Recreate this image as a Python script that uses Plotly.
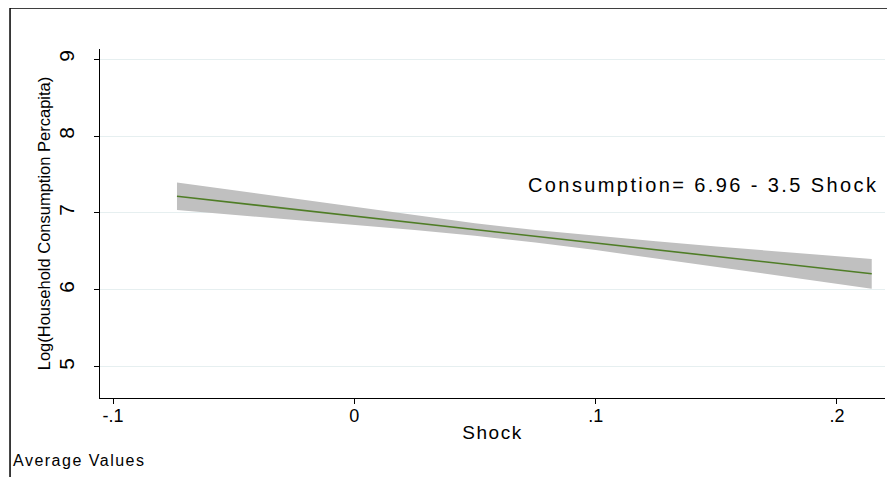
import plotly.graph_objects as go

# Data
shock = [-0.0735, -0.05, -0.025, 0.0, 0.025, 0.05, 0.075, 0.1, 0.125, 0.15, 0.175, 0.2, 0.2144]
fitted = [7.217, 7.135, 7.048, 6.960, 6.873, 6.785, 6.698, 6.610, 6.523, 6.435, 6.348, 6.260, 6.210]
ci_upper = [7.395, 7.295, 7.188, 7.075, 6.968, 6.867, 6.778, 6.702, 6.633, 6.565, 6.503, 6.440, 6.403]
ci_lower = [7.039, 6.975, 6.908, 6.845, 6.778, 6.703, 6.618, 6.518, 6.413, 6.305, 6.193, 6.080, 6.017]

x_tickvals = [-0.1, 0.0, 0.1, 0.2]
x_ticktext = ["-.1", "0", ".1", ".2"]
y_tickvals = [5, 6, 7, 8, 9]
y_ticktext = ["5", "6", "7", "8", "9"]

equation_text = "Consumption= 6.96 - 3.5 Shock"
note_text = "Average Values"
x_title = "Shock"
y_title = "Log(Household Consumption Percapita)"

FONT = "Liberation Sans, Arial, sans-serif"


def spaced(text, px):
    return '<span style="letter-spacing:%.1fpx">%s</span>' % (px, text)


fig = go.Figure()

# Confidence band
fig.add_trace(go.Scatter(
    x=shock + shock[::-1],
    y=ci_upper + ci_lower[::-1],
    fill="toself",
    fillcolor="#c0c0c0",
    line=dict(width=0, color="#c0c0c0"),
    mode="lines",
    hoverinfo="skip",
    showlegend=False,
))

# Fitted line
fig.add_trace(go.Scatter(
    x=shock, y=fitted,
    mode="lines",
    line=dict(color="#4f7d26", width=1.6),
    showlegend=False,
))

fig.update_layout(
    width=895, height=477,
    autosize=False,
    margin=dict(l=92, r=18, t=41, b=87, autoexpand=False),
    paper_bgcolor="white",
    plot_bgcolor="white",
    font=dict(family=FONT, color="black"),
    showlegend=False,
    xaxis=dict(
        range=[-0.1054, 0.2199],
        automargin=False,
        tickvals=x_tickvals, ticktext=x_ticktext,
        showgrid=False, zeroline=False,
        showline=True, linecolor="black", linewidth=1.3,
        ticks="outside", ticklen=5, tickcolor="black", tickwidth=1.2,
        tickfont=dict(size=18, family=FONT),
        ticklabelstandoff=-4,
        title=dict(text=spaced(x_title, 1.5), font=dict(size=19, family=FONT), standoff=0),
    ),
    yaxis=dict(
        range=[4.597, 9.13],
        automargin=False,
        tickvals=y_tickvals, ticktext=y_ticktext,
        showgrid=True, gridcolor="#e6eff0", gridwidth=1,
        zeroline=False,
        showline=True, linecolor="black", linewidth=1.3,
        ticks="outside", ticklen=5, tickcolor="black", tickwidth=1.2,
        tickangle=-90,
        tickfont=dict(size=21, family=FONT),
        ticklabelstandoff=11,
        title=dict(text=y_title, font=dict(size=16.5, family=FONT), standoff=0),
    ),
    shapes=[
        dict(type="rect", xref="paper", yref="paper",
             x0=-0.1146, x1=1.08, y0=-0.35, y1=1.1175,
             line=dict(color="black", width=1.5), fillcolor="rgba(0,0,0,0)", layer="above"),
    ],
    annotations=[
        dict(text=spaced(equation_text, 2.4), xref="paper", yref="paper",
             x=0.9936, y=0.610, xanchor="right", yanchor="middle",
             showarrow=False, font=dict(size=20, family=FONT, color="black")),
        dict(text=spaced(note_text, 1.5), xref="paper", yref="paper",
             x=-0.1134, y=-0.1777, xanchor="left", yanchor="middle",
             showarrow=False, font=dict(size=16, family=FONT, color="black")),
    ],
)

fig.write_html("out.html")
